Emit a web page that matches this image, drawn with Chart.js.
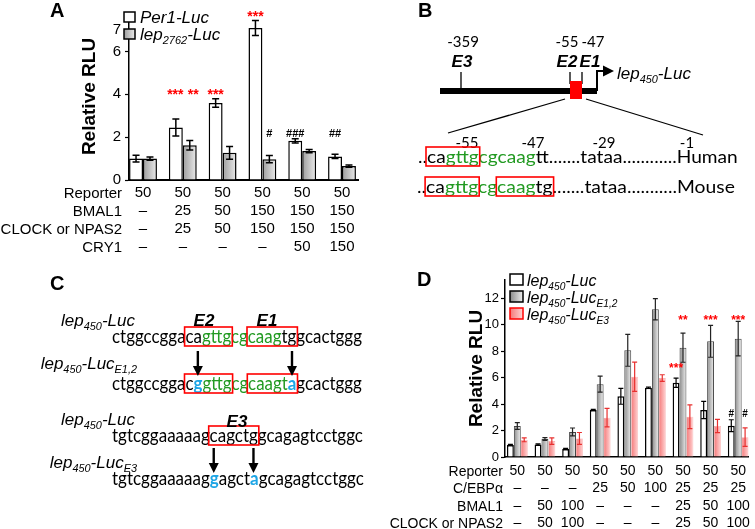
<!DOCTYPE html>
<html>
<head>
<meta charset="utf-8">
<title>lep reporter figure</title>
<script src="https://cdn.jsdelivr.net/npm/chart.js@4.4.1/dist/chart.umd.min.js"></script>
<style>
  html, body { margin: 0; padding: 0; background: #fff; }
  #page { position: relative; width: 755px; height: 529px; overflow: hidden; background: #fff; }
  canvas { position: absolute; }
  #chartA { left: 0; top: 0; }
  #chartD { left: 380px; top: 270px; }
  #art { position: absolute; left: 0; top: 0; }
</style>
</head>
<body>
<div id="page">
  <canvas id="chartA" width="370" height="260"></canvas>
  <canvas id="chartD" width="375" height="259"></canvas>
  <svg id="art" width="755" height="529" xmlns="http://www.w3.org/2000/svg"></svg>
</div>
<script>
const RED = '#ff0000', GREEN = '#229a22', BLUE = '#1ea6e6';
const SANS = '"Liberation Sans", Arial, sans-serif';
const SEQ = 'Lato, "Open Sans", sans-serif';

// ---- panel A data ----
const aRows = ['Reporter', 'BMAL1', 'CLOCK or NPAS2', 'CRY1'];
const aReporter = ['50', '50', '50', '50', '50', '50'];
const aBmal1 = ['–', '25', '50', '150', '150', '150'];
const aClock = ['–', '25', '50', '150', '150', '150'];
const aCry1 = ['–', '–', '–', '–', '50', '150'];
const aPer1 = [1.0, 2.45, 3.6, 7.1, 1.83, 1.1];
const aPer1Err = [0.16, 0.4, 0.2, 0.35, 0.1, 0.1];
const aLep = [1.0, 1.62, 1.27, 0.97, 1.35, 0.65];
const aLepErr = [0.08, 0.22, 0.3, 0.17, 0.08, 0.05];
const aTicks = [0, 2, 4, 6, 7];
const aMarks = [
  { ds: 0, i: 1, y: 4.14, text: '***', color: RED, size: 14, dx: -0.5 },
  { ds: 1, i: 1, y: 4.14, text: '**', color: RED, size: 14, dx: 3.5 },
  { ds: 0, i: 2, y: 4.14, text: '***', color: RED, size: 14 },
  { ds: 0, i: 3, y: 7.8, text: '***', color: RED, size: 14 },
  { ds: 1, i: 3, y: 2.2, text: '#', color: '#000', size: 11 },
  { ds: 0, i: 4, y: 2.2, text: '###', color: '#000', size: 11 },
  { ds: 0, i: 5, y: 2.2, text: '##', color: '#000', size: 11 }
];

// ---- panel D data ----
const dRows = ['Reporter', 'C/EBPα', 'BMAL1', 'CLOCK or NPAS2'];
const dReporter = ['50', '50', '50', '50', '50', '50', '50', '50', '50'];
const dCebp = ['–', '–', '–', '25', '50', '100', '25', '25', '25'];
const dBmal1 = ['–', '50', '100', '–', '–', '–', '25', '50', '100'];
const dClock = ['–', '50', '100', '–', '–', '–', '25', '50', '100'];
const dWt = [0.9, 0.95, 0.6, 3.55, 4.58, 5.22, 5.6, 3.55, 2.36];
const dWtErr = [0.05, 0.05, 0.05, 0.05, 0.6, 0.05, 0.35, 0.65, 0.45];
const dE12 = [2.34, 1.36, 1.89, 5.5, 8.05, 11.15, 8.25, 8.73, 8.93];
const dE12Err = [0.25, 0.1, 0.3, 0.6, 1.2, 0.8, 1.1, 1.2, 1.3];
const dE3 = [1.3, 1.2, 1.4, 2.97, 6.06, 5.96, 3.04, 2.34, 1.5];
const dE3Err = [0.15, 0.25, 0.45, 0.7, 1.1, 0.25, 0.9, 0.5, 0.7];
const dTicks = [0, 2, 4, 6, 8, 10, 12];
const dMarks = [
  { ds: 0, i: 6, y: 6.94, text: '***', color: RED, size: 12 },
  { ds: 1, i: 6, y: 10.57, text: '**', color: RED, size: 12 },
  { ds: 1, i: 7, y: 10.57, text: '***', color: RED, size: 12 },
  { ds: 1, i: 8, y: 10.57, text: '***', color: RED, size: 12 },
  { ds: 0, i: 8, y: 3.3, text: '#', color: '#000', size: 10 },
  { ds: 2, i: 8, y: 3.3, text: '#', color: '#000', size: 10 }
];

Chart.defaults.font.family = SANS;
Chart.defaults.color = '#000';

const pts = arr => arr.map((v, i) => ({ x: i, y: v }));

// per-bar horizontal gradient fill
const barGrad = {
  id: 'barGrad',
  beforeDatasetsDraw(chart) {
    const c = chart.ctx;
    chart.data.datasets.forEach((ds, di) => {
      if (!ds.grad) return;
      chart.getDatasetMeta(di).data.forEach(el => {
        const g = c.createLinearGradient(el.x - el.width / 2, 0, el.x + el.width / 2, 0);
        ds.grad.forEach((col, k) => g.addColorStop(k / (ds.grad.length - 1), col));
        el.options.backgroundColor = g;
      });
    });
  }
};

const errorBars = {
  id: 'errorBars',
  afterDatasetsDraw(chart) {
    const c = chart.ctx, ys = chart.scales.y;
    chart.data.datasets.forEach((ds, di) => {
      if (!ds.errors) return;
      c.save();
      c.strokeStyle = ds.errColor;
      c.lineWidth = ds.errWidth;
      chart.getDatasetMeta(di).data.forEach((el, i) => {
        const v = ds.data[i].y, e = ds.errors[i];
        const t = ys.getPixelForValue(v + e), b = ys.getPixelForValue(v - e);
        const h = ds.capHalf;
        c.beginPath();
        c.moveTo(el.x, t); c.lineTo(el.x, b);
        c.moveTo(el.x - h, t); c.lineTo(el.x + h, t);
        c.moveTo(el.x - h, b); c.lineTo(el.x + h, b);
        c.stroke();
      });
      c.restore();
    });
  }
};

function marksPlugin(items) {
  return {
    id: 'marks',
    afterDatasetsDraw(chart) {
      const c = chart.ctx, ys = chart.scales.y;
      items.forEach(m => {
        const el = chart.getDatasetMeta(m.ds).data[m.i];
        const off = m.text.includes('*') ? 0.57 : 0.36;
        c.save();
        c.font = 'bold ' + m.size + 'px ' + SANS;
        c.fillStyle = m.color;
        c.textAlign = 'center';
        c.textBaseline = 'alphabetic';
        c.fillText(m.text, el.x + (m.dx || 0), ys.getPixelForValue(m.y) + m.size * off);
        c.restore();
      });
    }
  };
}

// ---------------- chart A ----------------
const A_PAD = 4, A_LH = 18, A_FS = 15;
new Chart(document.getElementById('chartA'), {
  type: 'bar',
  data: {
    datasets: [
      { label: 'Per1-Luc', data: pts(aPer1), backgroundColor: '#fff', borderColor: '#000', borderWidth: 1.5,
        errors: aPer1Err, errColor: '#000', errWidth: 1.5, capHalf: 3.5 },
      { label: 'lep2762-Luc', data: pts(aLep), backgroundColor: () => '#ccc', grad: ['#9c9c9c', '#ececec'],
        borderColor: '#000', borderWidth: 1.5, errors: aLepErr, errColor: '#000', errWidth: 1.5, capHalf: 3.5 }
    ]
  },
  options: {
    responsive: false,
    animation: false,
    devicePixelRatio: 1,
    layout: { padding: { left: 0, top: 12, right: 12, bottom: 0 } },
    datasets: { bar: { categoryPercentage: 0.7, barPercentage: 1 } },
    plugins: { legend: { display: false }, tooltip: { enabled: false } },
    scales: {
      x: {
        type: 'linear', min: -0.352, max: 5.402, offset: false,
        grid: { display: false, drawTicks: false },
        border: { display: true, color: '#000', width: 2 },
        afterBuildTicks: s => { s.ticks = aReporter.map((_, i) => ({ value: i })); },
        afterFit: s => { s.height = 80; },
        ticks: {
          autoSkip: false, maxRotation: 0, padding: A_PAD,
          font: { size: A_FS, lineHeight: A_LH / A_FS },
          callback: v => [aReporter[v], aBmal1[v], aClock[v], aCry1[v]]
        }
      },
      y: {
        min: 0, max: 7.8,
        afterBuildTicks: s => { s.ticks = aTicks.map(v => ({ value: v })); },
        afterFit: s => { s.width = 129; },
        grid: { drawOnChartArea: false, color: '#000', tickLength: 4, tickWidth: 1.2 },
        border: { color: '#000', width: 1.5 },
        ticks: { font: { size: 15 }, padding: 4 },
        title: { display: true, text: 'Relative RLU', color: '#000',
                 font: { size: 19, weight: 'bold' }, padding: { top: 78, bottom: 0 } }
      }
    }
  },
  plugins: [barGrad, errorBars, marksPlugin(aMarks)]
});

// ---------------- chart D ----------------
const D_PAD = 5, D_LH = 17.5, D_FS = 14, D_AXIS = 187;
new Chart(document.getElementById('chartD'), {
  type: 'bar',
  data: {
    datasets: [
      { label: 'lep450-Luc', data: pts(dWt), backgroundColor: '#fff', borderColor: '#000', borderWidth: 1.5,
        errors: dWtErr, errColor: '#000', errWidth: 1.2, capHalf: 2.5 },
      { label: 'lep450-LucE1,2', data: pts(dE12), backgroundColor: () => '#bbb', grad: ['#8a8a8a', '#f0f0f0'],
        borderColor: '#444', borderWidth: 1, errors: dE12Err, errColor: '#222', errWidth: 1.2, capHalf: 2.5 },
      { label: 'lep450-LucE3', data: pts(dE3), backgroundColor: () => '#f99', grad: ['#f47878', '#ffd4d4'],
        borderColor: '#f6a2a2', borderWidth: 0.6, errors: dE3Err, errColor: '#e8302f', errWidth: 1.2, capHalf: 2.5 }
    ]
  },
  options: {
    responsive: false,
    animation: false,
    devicePixelRatio: 1,
    layout: { padding: { left: 0, top: 10, right: 3, bottom: 0 } },
    datasets: { bar: { categoryPercentage: 0.75, barPercentage: 1 } },
    plugins: { legend: { display: false }, tooltip: { enabled: false } },
    scales: {
      x: {
        type: 'linear', min: -0.446, max: 8.375, offset: false,
        grid: { display: false, drawTicks: false },
        border: { display: true, color: '#000', width: 1.5 },
        afterBuildTicks: s => { s.ticks = dReporter.map((_, i) => ({ value: i })); },
        afterFit: s => { s.height = 259 - D_AXIS; },
        ticks: {
          autoSkip: false, maxRotation: 0, padding: D_PAD,
          font: { size: D_FS, lineHeight: D_LH / D_FS },
          callback: v => [dReporter[v], dCebp[v], dBmal1[v], dClock[v]]
        }
      },
      y: {
        min: 0, max: 13.36,
        afterBuildTicks: s => { s.ticks = dTicks.map(v => ({ value: v })); },
        afterFit: s => { s.width = 125; },
        grid: { drawOnChartArea: false, color: '#000', tickLength: 4, tickWidth: 1.2 },
        border: { color: '#000', width: 1.5 },
        ticks: { font: { size: 13 }, padding: 2 },
        title: { display: true, text: 'Relative RLU', color: '#000',
                 font: { size: 19, weight: 'bold' }, padding: { top: 85.6, bottom: 0 } }
      }
    }
  },
  plugins: [barGrad, errorBars, marksPlugin(dMarks)]
});

// ---------------- text, legends and diagrams (SVG) ----------------
let svg = `<defs>
  <linearGradient id="gGray" x1="0" x2="1" y1="0" y2="0"><stop offset="0" stop-color="#9c9c9c"/><stop offset="1" stop-color="#ececec"/></linearGradient>
  <linearGradient id="gGrayD" x1="0" x2="1" y1="0" y2="0"><stop offset="0" stop-color="#8a8a8a"/><stop offset="1" stop-color="#f0f0f0"/></linearGradient>
  <linearGradient id="gPink" x1="0" x2="1" y1="0" y2="0"><stop offset="0" stop-color="#f47878"/><stop offset="1" stop-color="#ffd4d4"/></linearGradient>
</defs>`;
const FS = `font-family='${SANS}'`;
const FQ = `font-family='${SEQ}'`;
function txt(x, y, s, attrs) { svg += `<text x="${x}" y="${y}" ${attrs || ''}>${s}</text>`; }
function lep(x, y, anchor, size, sub2, first) {
  const sub = (size * 0.64).toFixed(1), d = (size * 0.25).toFixed(1);
  let s = `${first || 'lep'}<tspan font-size="${sub}" dy="${d}">450</tspan><tspan dy="-${d}">-Luc</tspan>`;
  if (sub2) s += `<tspan font-size="${sub}" dy="${d}">${sub2}</tspan>`;
  txt(x, y, s, `${FS} font-style="italic" font-size="${size}" text-anchor="${anchor}"`);
}
const letter = (x, y, s) => txt(x, y, s, `${FS} font-weight="bold" font-size="20"`);

letter(50, 17, 'A'); letter(418, 17, 'B'); letter(50, 290, 'C'); letter(417, 286, 'D');

// panel A legend + row headers
svg += `<rect x="124" y="12" width="11" height="10" fill="#fff" stroke="#000" stroke-width="1.5"/>`;
txt(140, 23, 'Per1-Luc', `${FS} font-style="italic" font-size="17"`);
svg += `<rect x="124" y="29" width="11" height="10" fill="url(#gGray)" stroke="#000" stroke-width="1.5"/>`;
txt(140, 40, `lep<tspan font-size="11" dy="4">2762</tspan><tspan dy="-4">-Luc</tspan>`, `${FS} font-style="italic" font-size="17"`);
aRows.forEach((r, k) => txt(122, 180 + A_PAD + A_LH / 2 + k * A_LH + 5.2, r, `${FS} font-size="${A_FS}" text-anchor="end"`));

// panel D legend + row headers
svg += `<rect x="510" y="274" width="13" height="11" fill="#fff" stroke="#000" stroke-width="1.5"/>`;
svg += `<rect x="510" y="291" width="13" height="11" fill="url(#gGrayD)" stroke="#000" stroke-width="1.5"/>`;
svg += `<rect x="510" y="308" width="13" height="11" fill="url(#gPink)" stroke="${RED}" stroke-width="1.5"/>`;
lep(527, 286, 'start', 16);
lep(527, 303, 'start', 16, 'E1,2');
lep(527, 320, 'start', 16, 'E3');
dRows.forEach((r, k) => txt(503, 270 + D_AXIS + D_PAD + D_LH / 2 + k * D_LH + 4.9, r, `${FS} font-size="${D_FS}" text-anchor="end"`));

// sequence helper: fits the line between x0 and x1, draws boxes, returns char-centre function
const mctx = document.createElement('canvas').getContext('2d');
function seqLine(segs, x0, x1, base, size, boxes) {
  const pos = [0];
  segs.forEach(([s, , bold]) => {
    mctx.font = (bold ? 'bold ' : '') + size + 'px ' + SEQ;
    const start = pos[pos.length - 1];
    for (let k = 1; k <= s.length; k++) pos.push(start + mctx.measureText(s.slice(0, k)).width);
  });
  const sx = (x1 - x0) / pos[pos.length - 1];
  const px = i => x0 + sx * pos[i];
  const inner = segs.map(([s, col, bold]) => `<tspan fill="${col}"${bold ? ' font-weight="bold"' : ''}>${s}</tspan>`).join('');
  svg += `<text transform="translate(${x0},${base}) scale(${sx.toFixed(4)},1)" x="0" y="0" ${FQ} font-size="${size}">${inner}</text>`;
  (boxes || []).forEach(([a, b]) => {
    svg += `<rect x="${(px(a) - 1).toFixed(1)}" y="${base - 16}" width="${(px(b) - px(a) + 2).toFixed(1)}" height="19" fill="none" stroke="${RED}" stroke-width="1.6"/>`;
  });
  return i => (px(i) + px(i + 1)) / 2;
}
function arrow(x, y0, y1) {
  svg += `<line x1="${x}" y1="${y0}" x2="${x}" y2="${y1 - 9}" stroke="#000" stroke-width="2.4"/>`;
  svg += `<polygon points="${x - 5},${y1 - 10} ${x + 5},${y1 - 10} ${x},${y1}" fill="#000"/>`;
}

// panel B
const num = (x, y, s) => txt(x, y, s, `${FQ} font-size="15" text-anchor="middle"`);
const ebox = (x, y, s) => txt(x, y, s, `${FS} font-size="17" font-weight="bold" font-style="italic" text-anchor="middle"`);
num(463, 47, '-359'); num(567, 47, '-55'); num(593, 47, '-47');
ebox(462, 67, 'E3'); ebox(567, 67, 'E2'); ebox(590, 67, 'E1');
svg += `<g stroke="#000" stroke-width="1.3">
  <line x1="461" y1="72" x2="461" y2="88"/><line x1="570" y1="72" x2="570" y2="84"/><line x1="582" y1="72" x2="582" y2="84"/>
  <line x1="565" y1="99" x2="448" y2="133"/><line x1="586" y1="99" x2="703" y2="135"/></g>`;
svg += `<rect x="440" y="88" width="157" height="6" fill="#000"/>`;
svg += `<rect x="570" y="81" width="12" height="18" fill="${RED}"/>`;
svg += `<polyline points="597,91 597,71 605,71" fill="none" stroke="#000" stroke-width="2"/>`;
svg += `<polygon points="603,65.5 614,71 603,76.5" fill="#000"/>`;
lep(617, 79, 'start', 17);
num(467, 148, '-55'); num(533, 148, '-47'); num(604, 148, '-29'); num(687, 148, '-1');
seqLine([['..ca', '#000'], ['gttgcgcaag', GREEN], ['tt.......tataa............Human', '#000']], 418, 738, 163, 18, [[2, 8]]);
seqLine([['..ca', '#000'], ['gttgcgcaag', GREEN], ['tg.......tataa...........Mouse', '#000']], 417, 735, 193, 18, [[2, 8], [10, 16]]);

// panel C
lep(135, 326, 'end', 17);
lep(137, 369, 'end', 17, 'E1,2');
lep(135, 425, 'end', 17);
lep(137, 468, 'end', 17, 'E3');
const c1 = seqLine([['ctggccggaca', '#000'], ['gttgcgcaag', GREEN], ['tggcactggg', '#000']], 112, 362, 343, 19, [[9, 15], [17, 23]]);
seqLine([['ctggccggac', '#000'], ['g', BLUE, 1], ['gttgcgcaagt', GREEN], ['a', BLUE, 1], ['gcactggg', '#000']], 112, 362, 390, 19, [[9, 15], [17, 23]]);
const c3 = seqLine([['tgtcggaaaaagcagctggcagagtcctggc', '#000']], 112, 363, 442, 19, [[12, 18]]);
seqLine([['tgtcggaaaaag', '#000'], ['g', BLUE, 1], ['agct', '#000'], ['a', BLUE, 1], ['gcagagtcctggc', '#000']], 112, 364, 485, 19);
ebox(204, 326, 'E2'); ebox(267, 326, 'E1'); ebox(237, 427, 'E3');
arrow(c1(10), 351, 376); arrow(c1(22), 351, 376);
arrow(c3(12), 448, 473); arrow(c3(17), 448, 473);

document.getElementById('art').innerHTML = svg;
</script>
</body>
</html>
